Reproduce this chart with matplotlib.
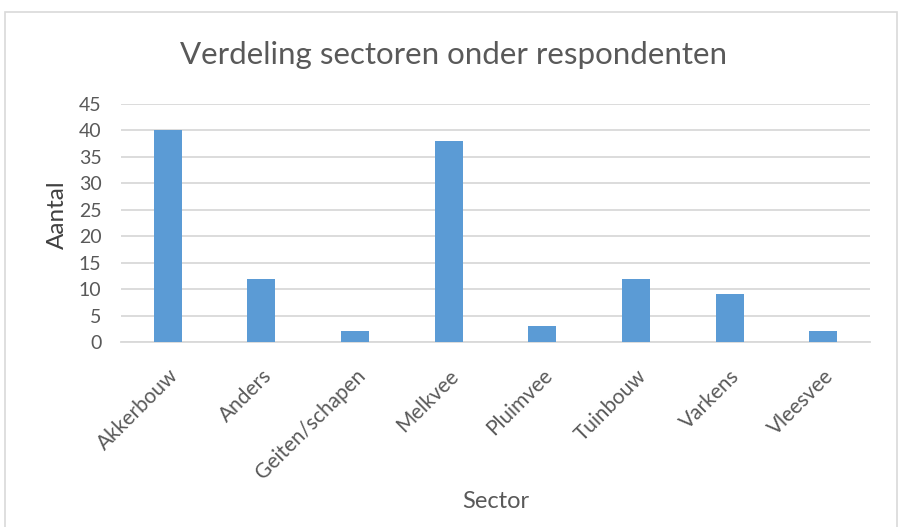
import matplotlib
matplotlib.use("Agg")
from matplotlib import pyplot as plt
from matplotlib.patches import Rectangle
import numpy as np

plt.rcParams['font.family'] = ['Lato', 'DejaVu Sans']

# data
sectors = ["Akkerbouw", "Anders", "Geiten/schapen", "Melkvee",
           "Pluimvee", "Tuinbouw", "Varkens", "Vleesvee"]
counts = [40, 12, 2, 38, 3, 12, 9, 2]
yticks = [0, 5, 10, 15, 20, 25, 30, 35, 40, 45]

fig = plt.figure(figsize=(9.02, 5.27), dpi=100)
fig.patches.append(Rectangle((5 / 902, -0.01), 892 / 902, 1 - 12 / 527 + 0.01,
                             transform=fig.transFigure, fill=False,
                             edgecolor="#d9d9d9", linewidth=1.2))

ax = fig.add_axes([121 / 902, 1 - 342 / 527, 749 / 902, 238 / 527])
x = np.arange(len(sectors))
ax.bar(x, counts, width=0.3, color="#5b9bd5", zorder=3)

ax.set_xlim(-0.5, len(sectors) - 0.5)
ax.set_ylim(0, 45)
ax.set_yticks(yticks)
ax.set_xticks(x)
ax.set_xticklabels(sectors, rotation=45, ha="right", rotation_mode="anchor",
                   fontsize=15, color="#595959")
ax.tick_params(axis="y", labelsize=14, labelcolor="#595959", length=0, pad=14)
ax.tick_params(axis="x", length=0, pad=17)
ax.grid(axis="y", color="#d9d9d9", linewidth=1.3, zorder=0)
for s in ["top", "right", "left"]:
    ax.spines[s].set_visible(False)
ax.spines["bottom"].set_color("#d9d9d9")
ax.spines["bottom"].set_linewidth(1.3)

fig.text(57 / 902, 1 - 215 / 527, "Aantal", fontsize=17.5, color="#404040",
         rotation=90, ha="center", va="center")
fig.text(496 / 902, 1 - 501 / 527, "Sector", fontsize=17, color="#595959",
         ha="center", va="center")
fig.text(454 / 902, 1 - 55 / 527, "Verdeling sectoren onder respondenten",
         fontsize=22.5, color="#595959", ha="center", va="center")

plt.savefig("out.png", dpi=100)
